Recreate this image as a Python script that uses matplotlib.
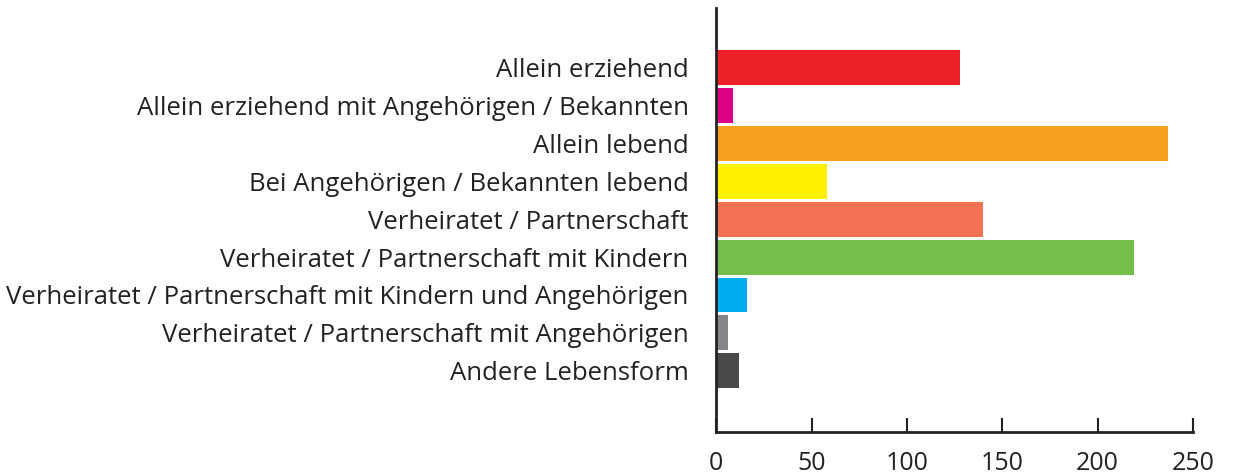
import matplotlib
matplotlib.use("Agg")
import matplotlib.pyplot as plt

categories = [
    "Allein erziehend",
    "Allein erziehend mit Angehörigen / Bekannten",
    "Allein lebend",
    "Bei Angehörigen / Bekannten lebend",
    "Verheiratet / Partnerschaft",
    "Verheiratet / Partnerschaft mit Kindern",
    "Verheiratet / Partnerschaft mit Kindern und Angehörigen",
    "Verheiratet / Partnerschaft mit Angehörigen",
    "Andere Lebensform",
]
values = [128, 9, 237, 58, 140, 219, 16, 6, 12]
colors = ["#EE2028", "#DC0084", "#F59F1E", "#FFF100", "#F37254",
          "#74BF4C", "#00AEEF", "#85858A", "#48494B"]
xticks = [0, 50, 100, 150, 200, 250]

plt.rcParams['font.family'] = ['Open Sans', 'DejaVu Sans']

fig = plt.figure(figsize=(12.35, 4.74), dpi=100)
ax = fig.add_axes([0.580, 0.089, 0.386, 0.894])

pos = list(range(len(categories)))
ax.barh(pos, values, height=0.92, color=colors)

ax.set_ylim(len(categories) - 1 + 1.61, -1.57)
ax.set_xlim(0, 250)
ax.set_yticks(pos)
ax.set_yticklabels(categories, fontsize=18.5, color="#222222")
ax.set_xticks(xticks)
ax.set_xticklabels([str(t) for t in xticks], fontsize=18, color="#222222")

ax.tick_params(axis='y', length=0, pad=20)
ax.tick_params(axis='x', direction='in', length=10, width=1.5, color="#222222", pad=14)

for side in ['top', 'right']:
    ax.spines[side].set_visible(False)
for side in ['left', 'bottom']:
    ax.spines[side].set_linewidth(2)
    ax.spines[side].set_color("#222222")

fig.savefig("out.png", dpi=100)
